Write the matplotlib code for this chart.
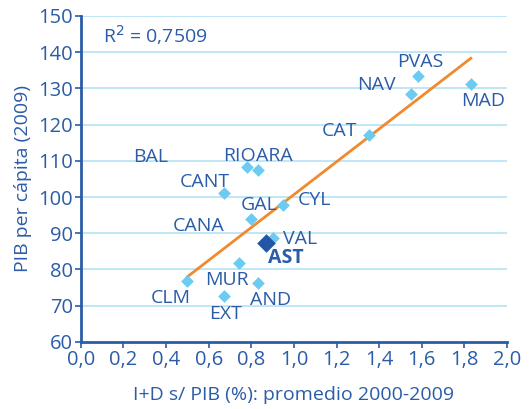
import matplotlib.pyplot as plt

plt.rcParams['font.family'] = ['Open Sans', 'DejaVu Sans']

# regiones con punto visible
regions = ['PVAS', 'NAV', 'MAD', 'CAT', 'RIO', 'ARA', 'CANT', 'GAL', 'CYL',
           'VAL', 'MUR', 'AND', 'CLM', 'EXT']
rd_pct = [1.58, 1.55, 1.83, 1.35, 0.78, 0.83, 0.67, 0.80, 0.95,
          0.90, 0.74, 0.83, 0.50, 0.67]
gdp_pc = [133.4, 128.5, 131.2, 117.1, 108.4, 107.5, 101.0, 93.9, 97.8,
          88.6, 81.9, 76.4, 76.9, 72.6]

ast_x, ast_y = 0.87, 87.4

# recta de tendencia
trend_x = [0.50, 1.83]
trend_y = [78.0, 138.3]

r2_text = 'R$^2$ = 0,7509'

# posiciones de las etiquetas (x, y, ha)
label_pos = {
    'PVAS': (1.594, 137.2, 'center'),
    'NAV': (1.48, 131.0, 'right'),
    'MAD': (1.785, 126.5, 'left'),
    'CAT': (1.295, 118.2, 'right'),
    'BAL': (0.326, 111.0, 'center'),
    'RIO': (0.82, 111.2, 'right'),
    'ARA': (0.82, 111.2, 'left'),
    'CANT': (0.584, 104.1, 'center'),
    'GAL': (0.837, 97.7, 'center'),
    'CYL': (1.097, 99.3, 'center'),
    'CANA': (0.552, 92.0, 'center'),
    'VAL': (1.027, 88.3, 'center'),
    'MUR': (0.687, 77.2, 'center'),
    'AND': (0.891, 71.7, 'center'),
    'CLM': (0.422, 72.1, 'center'),
    'EXT': (0.680, 67.6, 'center'),
}

blue = '#2a5ca8'
light = '#6dcbf2'

fig = plt.figure(figsize=(5.32, 4.09), dpi=100)
ax = fig.add_axes([0.152, 0.164, 0.801, 0.797])

for yv in range(70, 151, 10):
    ax.axhline(yv, color='#b5e1f4', lw=1.2, zorder=0)

ax.plot(trend_x, trend_y, color='#f08a2c', lw=2, zorder=2)
ax.scatter(rd_pct, gdp_pc, marker='D', s=42, color=light, zorder=3, linewidths=0)
ax.scatter([ast_x], [ast_y], marker='D', s=90, color='#2456a6', zorder=4, linewidths=0)

for name, (lx, ly, ha) in label_pos.items():
    ax.text(lx, ly, name, color=blue, fontsize=14, ha=ha, va='center')
ax.text(0.961, 83.3, 'AST', color=blue, fontsize=14, fontweight='bold',
        ha='center', va='center')

ax.text(0.103, 144.8, r2_text, color=blue, fontsize=14, ha='left', va='center')

ax.set_xlim(0, 2.0)
ax.set_ylim(60, 150)
ax.set_xticks([i / 10 for i in range(0, 21, 2)])
ax.set_xticklabels([f'{i / 10:.1f}'.replace('.', ',') for i in range(0, 21, 2)])
ax.set_yticks(range(60, 151, 10))

for s in ['top', 'right']:
    ax.spines[s].set_visible(False)
for s in ['left', 'bottom']:
    ax.spines[s].set_color(blue)
    ax.spines[s].set_linewidth(2)
ax.tick_params(colors=blue, labelsize=14.5, length=4, width=1.2, pad=1.5)

ax.set_xlabel('I+D s/ PIB (%): promedio 2000-2009', color=blue, fontsize=14, labelpad=12)
ax.set_ylabel('PIB per cápita (2009)', color=blue, fontsize=14, labelpad=4.5)

fig.savefig('out.png', dpi=100)
